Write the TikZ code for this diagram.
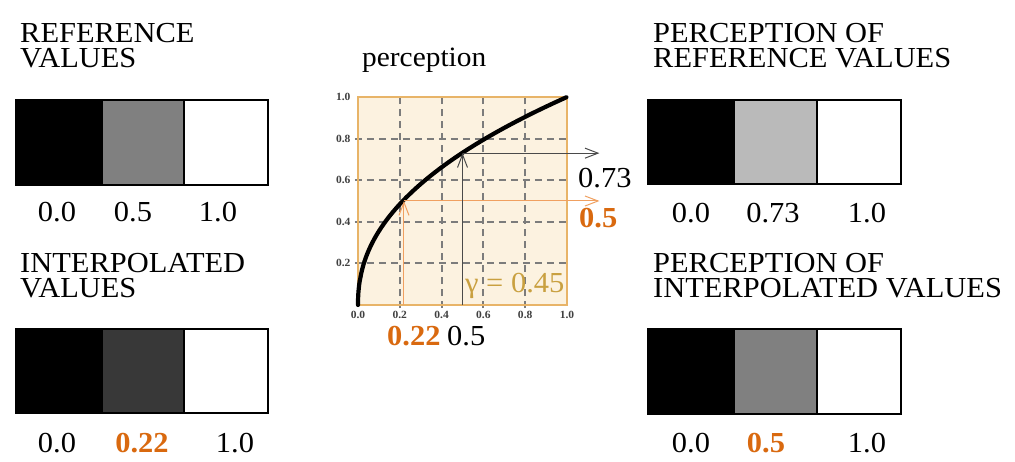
\documentclass[tikz,border=0pt]{standalone}
\usepackage{fontspec}
\setmainfont[FakeStretch=1.05]{Liberation Serif}
\usetikzlibrary{arrows.meta}
\definecolor{orangetxt}{HTML}{D9690F}
\definecolor{orangeln}{HTML}{F0A060}
\definecolor{plotbg}{HTML}{FCF2E0}
\definecolor{plotframe}{HTML}{E8B468}
\definecolor{gammac}{HTML}{C9A040}
\definecolor{gridc}{HTML}{7C7C7C}
\definecolor{arrowc}{HTML}{4A4A4A}
\begin{document}
\begin{tikzpicture}[x=1pt,y=-1pt,
  big/.style={font=\fontsize{29}{25}\selectfont, inner sep=0pt},
  title/.style={big, anchor=base west},
  heading/.style={big, anchor=base west, align=left},
  val/.style={big, anchor=base},
  hl/.style={text=orangetxt, font=\fontsize{29}{25}\selectfont\bfseries},
  cell/.style={draw=black, line width=1.8pt},
  tick/.style={font=\fontsize{11}{11}\selectfont\bfseries, inner sep=0pt, text=black!75},
  gridline/.style={draw=gridc, line width=2pt, dash pattern=on 7pt off 5pt},
  tipc/.style={-{Straight Barb[length=13pt,width=10pt]}},
  blackarrow/.style={tipc, draw=arrowc, line width=1pt},
  orangearrow/.style={tipc, draw=orangeln, line width=1pt}
]
\useasboundingbox[fill=white] (0,0) rectangle (1015,462);

% ---------- titles (base = baseline of last line) ----------
\node[heading] (t1) at (20,68) {REFERENCE\\VALUES};
\node[heading] (t2) at (20,298) {INTERPOLATED\\VALUES};
\node[heading] (t3) at (653,68) {PERCEPTION OF\\REFERENCE VALUES};
\node[heading] (t4) at (653,298) {PERCEPTION OF\\INTERPOLATED VALUES};
\node[title, font=\fontsize{28}{25}\selectfont] (tp) at (362,67) {perception};

% ---------- swatches ----------
\path[cell, fill=black] (16,100) rectangle (102,185);
\path[cell, fill=black!50] (102,100) rectangle (184,185);
\path[cell, fill=white] (184,100) rectangle (268,185);

\path[cell, fill=black] (16,329) rectangle (102,413);
\path[cell, fill=black!78] (102,329) rectangle (184,413);
\path[cell, fill=white] (184,329) rectangle (268,413);

\path[cell, fill=black] (648,100) rectangle (734,184);
\path[cell, fill=black!27] (734,100) rectangle (817,184);
\path[cell, fill=white] (817,100) rectangle (901,184);

\path[cell, fill=black] (648,329) rectangle (734,414);
\path[cell, fill=black!50] (734,329) rectangle (817,414);
\path[cell, fill=white] (817,329) rectangle (901,414);

% ---------- swatch values ----------
\node[val] (v1a) at (57,222) {0.0};
\node[val] (v1b) at (133,222) {0.5};
\node[val] (v1c) at (218,222) {1.0};
\node[val] (v2a) at (57,452) {0.0};
\node[val, hl] (v2b) at (142,452) {0.22};
\node[val] (v2c) at (235,452) {1.0};
\node[val] (v3a) at (691,223) {0.0};
\node[val] (v3b) at (773,223) {0.73};
\node[val] (v3c) at (867,223) {1.0};
\node[val] (v4a) at (691,452) {0.0};
\node[val, hl] (v4b) at (766,452) {0.5};
\node[val] (v4c) at (867,452) {1.0};

% ---------- chart ----------
\begin{scope}[shift={(358,305)}, x=209pt, y=208pt]
  \fill[plotbg] (0,0) rectangle (1,1);
  \foreach \v in {0.2,0.4,0.6,0.8} {
    \draw[gridline] (\v,-0.015) -- (\v,1.015);
    \draw[gridline] (-0.015,\v) -- (1.015,\v);
  }
  \draw[plotframe, line width=1.3pt] (0,0) rectangle (1,1);
  \foreach \v/\t in {0.2/0.2,0.4/0.4,0.6/0.6,0.8/0.8,1/1.0}
    \node[tick, anchor=east] at (-0.035,\v) {\t};
  \foreach \v/\t in {0/0.0,0.2/0.2,0.4/0.4,0.6/0.6,0.8/0.8,1/1.0}
    \node[tick, anchor=north] at (\v,-0.03) {\t};
  \draw[line width=4.2pt, line cap=round] (0,0) -- plot[domain=0.02:1, samples=120, smooth] ({(\x)^(1/0.45)}, \x);

  \coordinate (b0) at (0.5,0);
  \coordinate (b1) at (0.5,0.73);
  \coordinate (b2) at (1.155,0.73);
  \coordinate (o0) at (0.22,0);
  \coordinate (o1) at (0.22,0.5);
  \coordinate (o2) at (1.155,0.5);
  \draw[orangearrow] (o0) -- (o1);
  \draw[orangearrow] (o1) -- (o2);
  \draw[blackarrow] (b0) -- (b1);
  \draw[blackarrow] (b1) -- (b2);
\end{scope}

% ---------- chart labels ----------
\node[title] (l073) at (578,188) {0.73};
\node[title, hl] (l05o) at (579,228) {0.5};
\node[title, hl] (l022) at (387,345) {0.22};
\node[title] (l05b) at (447,345) {0.5};
\node[title, text=gammac] (lg) at (465,293) {γ = 0.45};
\end{tikzpicture}
\end{document}
